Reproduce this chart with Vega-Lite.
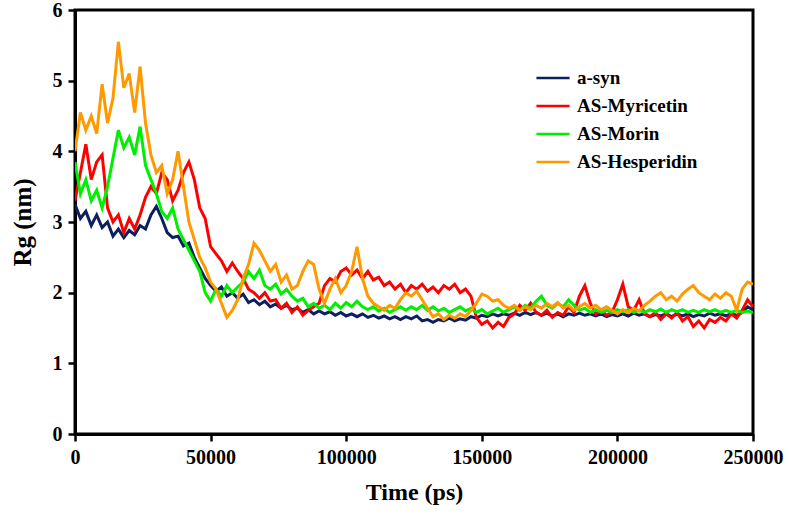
{
  "$schema": "https://vega.github.io/schema/vega-lite/v6.json",
  "width": 678,
  "height": 424,
  "autosize": {"type": "none"},
  "padding": {"left": 75, "top": 10, "right": 37, "bottom": 80},
  "background": "white",
  "config": {
    "font": "Liberation Serif",
    "view": {"stroke": "black", "strokeWidth": 3},
    "axis": {"grid": false, "domainColor": "black", "domainWidth": 3, "tickColor": "black", "tickWidth": 2.5, "tickSize": 7, "labelFont": "Liberation Serif", "labelFontWeight": "bold", "labelColor": "black", "labelFontSize": 20, "titleFont": "Liberation Serif", "titleFontWeight": "bold", "titleColor": "black"},
    "legend": {"labelFont": "Liberation Serif", "labelFontWeight": "bold", "labelColor": "black", "labelFontSize": 19}
  },
  "data": {"values": [
{"t":0,"a-syn":3.25,"AS-Myricetin":3.3,"AS-Morin":3.85,"AS-Hesperidin":4.0},
{"t":2000,"a-syn":3.05,"AS-Myricetin":3.7,"AS-Morin":3.4,"AS-Hesperidin":4.55},
{"t":4000,"a-syn":3.15,"AS-Myricetin":4.1,"AS-Morin":3.6,"AS-Hesperidin":4.3},
{"t":6000,"a-syn":2.95,"AS-Myricetin":3.6,"AS-Morin":3.3,"AS-Hesperidin":4.5},
{"t":8000,"a-syn":3.1,"AS-Myricetin":3.85,"AS-Morin":3.45,"AS-Hesperidin":4.25},
{"t":10000,"a-syn":2.92,"AS-Myricetin":3.95,"AS-Morin":3.2,"AS-Hesperidin":4.95},
{"t":12000,"a-syn":3.0,"AS-Myricetin":3.2,"AS-Morin":3.5,"AS-Hesperidin":4.4},
{"t":14000,"a-syn":2.8,"AS-Myricetin":3.0,"AS-Morin":3.9,"AS-Hesperidin":4.75},
{"t":16000,"a-syn":2.9,"AS-Myricetin":3.1,"AS-Morin":4.3,"AS-Hesperidin":5.55},
{"t":18000,"a-syn":2.78,"AS-Myricetin":2.85,"AS-Morin":4.05,"AS-Hesperidin":4.9},
{"t":20000,"a-syn":2.88,"AS-Myricetin":3.05,"AS-Morin":4.2,"AS-Hesperidin":5.1},
{"t":22000,"a-syn":2.82,"AS-Myricetin":2.9,"AS-Morin":3.95,"AS-Hesperidin":4.55},
{"t":24000,"a-syn":2.95,"AS-Myricetin":3.1,"AS-Morin":4.35,"AS-Hesperidin":5.2},
{"t":26000,"a-syn":2.9,"AS-Myricetin":3.35,"AS-Morin":3.8,"AS-Hesperidin":4.4},
{"t":28000,"a-syn":3.1,"AS-Myricetin":3.5,"AS-Morin":3.6,"AS-Hesperidin":3.95},
{"t":30000,"a-syn":3.22,"AS-Myricetin":3.4,"AS-Morin":3.4,"AS-Hesperidin":3.7},
{"t":32000,"a-syn":3.05,"AS-Myricetin":3.7,"AS-Morin":3.15,"AS-Hesperidin":3.8},
{"t":34000,"a-syn":2.85,"AS-Myricetin":3.6,"AS-Morin":3.05,"AS-Hesperidin":3.4},
{"t":36000,"a-syn":2.78,"AS-Myricetin":3.3,"AS-Morin":3.2,"AS-Hesperidin":3.6},
{"t":38000,"a-syn":2.8,"AS-Myricetin":3.45,"AS-Morin":2.9,"AS-Hesperidin":4.0},
{"t":40000,"a-syn":2.66,"AS-Myricetin":3.7,"AS-Morin":2.75,"AS-Hesperidin":3.5},
{"t":42000,"a-syn":2.7,"AS-Myricetin":3.85,"AS-Morin":2.6,"AS-Hesperidin":3.0},
{"t":44000,"a-syn":2.5,"AS-Myricetin":3.6,"AS-Morin":2.45,"AS-Hesperidin":2.75},
{"t":46000,"a-syn":2.35,"AS-Myricetin":3.2,"AS-Morin":2.3,"AS-Hesperidin":2.5},
{"t":48000,"a-syn":2.2,"AS-Myricetin":3.05,"AS-Morin":2.0,"AS-Hesperidin":2.35},
{"t":50000,"a-syn":2.1,"AS-Myricetin":2.65,"AS-Morin":1.88,"AS-Hesperidin":2.15},
{"t":52000,"a-syn":2.02,"AS-Myricetin":2.55,"AS-Morin":2.05,"AS-Hesperidin":2.05},
{"t":54000,"a-syn":2.08,"AS-Myricetin":2.45,"AS-Morin":1.95,"AS-Hesperidin":1.85},
{"t":56000,"a-syn":1.95,"AS-Myricetin":2.3,"AS-Morin":2.1,"AS-Hesperidin":1.65},
{"t":58000,"a-syn":2.0,"AS-Myricetin":2.42,"AS-Morin":2.0,"AS-Hesperidin":1.75},
{"t":60000,"a-syn":1.92,"AS-Myricetin":2.3,"AS-Morin":2.08,"AS-Hesperidin":1.9},
{"t":62000,"a-syn":1.98,"AS-Myricetin":2.2,"AS-Morin":2.15,"AS-Hesperidin":2.2},
{"t":64000,"a-syn":1.86,"AS-Myricetin":2.05,"AS-Morin":2.3,"AS-Hesperidin":2.4},
{"t":66000,"a-syn":1.9,"AS-Myricetin":2.0,"AS-Morin":2.2,"AS-Hesperidin":2.7},
{"t":68000,"a-syn":1.83,"AS-Myricetin":1.92,"AS-Morin":2.32,"AS-Hesperidin":2.6},
{"t":70000,"a-syn":1.88,"AS-Myricetin":2.0,"AS-Morin":2.1,"AS-Hesperidin":2.45},
{"t":72000,"a-syn":1.8,"AS-Myricetin":1.88,"AS-Morin":2.05,"AS-Hesperidin":2.3},
{"t":74000,"a-syn":1.84,"AS-Myricetin":1.9,"AS-Morin":2.12,"AS-Hesperidin":2.4},
{"t":76000,"a-syn":1.78,"AS-Myricetin":1.78,"AS-Morin":1.98,"AS-Hesperidin":2.15},
{"t":78000,"a-syn":1.82,"AS-Myricetin":1.85,"AS-Morin":2.05,"AS-Hesperidin":2.25},
{"t":80000,"a-syn":1.76,"AS-Myricetin":1.72,"AS-Morin":1.95,"AS-Hesperidin":2.05},
{"t":82000,"a-syn":1.78,"AS-Myricetin":1.8,"AS-Morin":1.88,"AS-Hesperidin":2.1},
{"t":84000,"a-syn":1.72,"AS-Myricetin":1.68,"AS-Morin":1.92,"AS-Hesperidin":2.3},
{"t":86000,"a-syn":1.76,"AS-Myricetin":1.75,"AS-Morin":1.8,"AS-Hesperidin":2.45},
{"t":88000,"a-syn":1.7,"AS-Myricetin":1.8,"AS-Morin":1.85,"AS-Hesperidin":2.4},
{"t":90000,"a-syn":1.74,"AS-Myricetin":1.85,"AS-Morin":1.78,"AS-Hesperidin":2.05},
{"t":92000,"a-syn":1.7,"AS-Myricetin":2.1,"AS-Morin":1.82,"AS-Hesperidin":1.85},
{"t":94000,"a-syn":1.73,"AS-Myricetin":2.2,"AS-Morin":1.76,"AS-Hesperidin":2.05},
{"t":96000,"a-syn":1.68,"AS-Myricetin":2.15,"AS-Morin":1.85,"AS-Hesperidin":2.2},
{"t":98000,"a-syn":1.72,"AS-Myricetin":2.3,"AS-Morin":1.78,"AS-Hesperidin":2.0},
{"t":100000,"a-syn":1.67,"AS-Myricetin":2.35,"AS-Morin":1.86,"AS-Hesperidin":2.1},
{"t":102000,"a-syn":1.7,"AS-Myricetin":2.25,"AS-Morin":1.8,"AS-Hesperidin":2.3},
{"t":104000,"a-syn":1.66,"AS-Myricetin":2.32,"AS-Morin":1.88,"AS-Hesperidin":2.65},
{"t":106000,"a-syn":1.7,"AS-Myricetin":2.2,"AS-Morin":1.8,"AS-Hesperidin":2.2},
{"t":108000,"a-syn":1.65,"AS-Myricetin":2.3,"AS-Morin":1.76,"AS-Hesperidin":1.95},
{"t":110000,"a-syn":1.68,"AS-Myricetin":2.18,"AS-Morin":1.8,"AS-Hesperidin":1.85},
{"t":112000,"a-syn":1.64,"AS-Myricetin":2.22,"AS-Morin":1.74,"AS-Hesperidin":1.8},
{"t":114000,"a-syn":1.67,"AS-Myricetin":2.1,"AS-Morin":1.78,"AS-Hesperidin":1.75},
{"t":116000,"a-syn":1.63,"AS-Myricetin":2.15,"AS-Morin":1.72,"AS-Hesperidin":1.82},
{"t":118000,"a-syn":1.66,"AS-Myricetin":2.05,"AS-Morin":1.76,"AS-Hesperidin":1.78},
{"t":120000,"a-syn":1.62,"AS-Myricetin":2.12,"AS-Morin":1.8,"AS-Hesperidin":1.9},
{"t":122000,"a-syn":1.66,"AS-Myricetin":2.0,"AS-Morin":1.75,"AS-Hesperidin":2.0},
{"t":124000,"a-syn":1.63,"AS-Myricetin":2.1,"AS-Morin":1.8,"AS-Hesperidin":1.95},
{"t":126000,"a-syn":1.67,"AS-Myricetin":2.05,"AS-Morin":1.76,"AS-Hesperidin":2.02},
{"t":128000,"a-syn":1.6,"AS-Myricetin":2.12,"AS-Morin":1.82,"AS-Hesperidin":1.9},
{"t":130000,"a-syn":1.62,"AS-Myricetin":2.02,"AS-Morin":1.75,"AS-Hesperidin":1.78},
{"t":132000,"a-syn":1.58,"AS-Myricetin":2.08,"AS-Morin":1.8,"AS-Hesperidin":1.66},
{"t":134000,"a-syn":1.62,"AS-Myricetin":2.0,"AS-Morin":1.74,"AS-Hesperidin":1.7},
{"t":136000,"a-syn":1.6,"AS-Myricetin":2.1,"AS-Morin":1.78,"AS-Hesperidin":1.62},
{"t":138000,"a-syn":1.64,"AS-Myricetin":2.05,"AS-Morin":1.72,"AS-Hesperidin":1.68},
{"t":140000,"a-syn":1.6,"AS-Myricetin":2.12,"AS-Morin":1.76,"AS-Hesperidin":1.64},
{"t":142000,"a-syn":1.63,"AS-Myricetin":2.0,"AS-Morin":1.8,"AS-Hesperidin":1.7},
{"t":144000,"a-syn":1.61,"AS-Myricetin":2.05,"AS-Morin":1.74,"AS-Hesperidin":1.66},
{"t":146000,"a-syn":1.66,"AS-Myricetin":1.95,"AS-Morin":1.78,"AS-Hesperidin":1.75},
{"t":148000,"a-syn":1.64,"AS-Myricetin":1.65,"AS-Morin":1.72,"AS-Hesperidin":1.85},
{"t":150000,"a-syn":1.68,"AS-Myricetin":1.55,"AS-Morin":1.76,"AS-Hesperidin":1.98},
{"t":152000,"a-syn":1.66,"AS-Myricetin":1.6,"AS-Morin":1.7,"AS-Hesperidin":1.95},
{"t":154000,"a-syn":1.7,"AS-Myricetin":1.5,"AS-Morin":1.74,"AS-Hesperidin":1.88},
{"t":156000,"a-syn":1.67,"AS-Myricetin":1.58,"AS-Morin":1.78,"AS-Hesperidin":1.9},
{"t":158000,"a-syn":1.7,"AS-Myricetin":1.52,"AS-Morin":1.72,"AS-Hesperidin":1.82},
{"t":160000,"a-syn":1.68,"AS-Myricetin":1.65,"AS-Morin":1.76,"AS-Hesperidin":1.78},
{"t":162000,"a-syn":1.71,"AS-Myricetin":1.7,"AS-Morin":1.8,"AS-Hesperidin":1.82},
{"t":164000,"a-syn":1.68,"AS-Myricetin":1.82,"AS-Morin":1.75,"AS-Hesperidin":1.75},
{"t":166000,"a-syn":1.72,"AS-Myricetin":1.75,"AS-Morin":1.82,"AS-Hesperidin":1.8},
{"t":168000,"a-syn":1.69,"AS-Myricetin":1.85,"AS-Morin":1.78,"AS-Hesperidin":1.76},
{"t":170000,"a-syn":1.72,"AS-Myricetin":1.72,"AS-Morin":1.88,"AS-Hesperidin":1.82},
{"t":172000,"a-syn":1.68,"AS-Myricetin":1.68,"AS-Morin":1.95,"AS-Hesperidin":1.78},
{"t":174000,"a-syn":1.71,"AS-Myricetin":1.75,"AS-Morin":1.82,"AS-Hesperidin":1.85},
{"t":176000,"a-syn":1.67,"AS-Myricetin":1.65,"AS-Morin":1.78,"AS-Hesperidin":1.8},
{"t":178000,"a-syn":1.7,"AS-Myricetin":1.72,"AS-Morin":1.85,"AS-Hesperidin":1.86},
{"t":180000,"a-syn":1.66,"AS-Myricetin":1.68,"AS-Morin":1.8,"AS-Hesperidin":1.78},
{"t":182000,"a-syn":1.7,"AS-Myricetin":1.8,"AS-Morin":1.9,"AS-Hesperidin":1.82},
{"t":184000,"a-syn":1.68,"AS-Myricetin":1.72,"AS-Morin":1.82,"AS-Hesperidin":1.75},
{"t":186000,"a-syn":1.71,"AS-Myricetin":1.95,"AS-Morin":1.75,"AS-Hesperidin":1.8},
{"t":188000,"a-syn":1.68,"AS-Myricetin":2.1,"AS-Morin":1.78,"AS-Hesperidin":1.85},
{"t":190000,"a-syn":1.7,"AS-Myricetin":1.85,"AS-Morin":1.72,"AS-Hesperidin":1.78},
{"t":192000,"a-syn":1.67,"AS-Myricetin":1.7,"AS-Morin":1.76,"AS-Hesperidin":1.82},
{"t":194000,"a-syn":1.7,"AS-Myricetin":1.75,"AS-Morin":1.72,"AS-Hesperidin":1.76},
{"t":196000,"a-syn":1.66,"AS-Myricetin":1.68,"AS-Morin":1.75,"AS-Hesperidin":1.8},
{"t":198000,"a-syn":1.69,"AS-Myricetin":1.72,"AS-Morin":1.72,"AS-Hesperidin":1.75},
{"t":200000,"a-syn":1.67,"AS-Myricetin":1.9,"AS-Morin":1.76,"AS-Hesperidin":1.7},
{"t":202000,"a-syn":1.7,"AS-Myricetin":2.12,"AS-Morin":1.73,"AS-Hesperidin":1.76},
{"t":204000,"a-syn":1.67,"AS-Myricetin":1.8,"AS-Morin":1.76,"AS-Hesperidin":1.72},
{"t":206000,"a-syn":1.71,"AS-Myricetin":1.75,"AS-Morin":1.72,"AS-Hesperidin":1.78},
{"t":208000,"a-syn":1.68,"AS-Myricetin":1.9,"AS-Morin":1.75,"AS-Hesperidin":1.74},
{"t":210000,"a-syn":1.7,"AS-Myricetin":1.7,"AS-Morin":1.72,"AS-Hesperidin":1.82},
{"t":212000,"a-syn":1.66,"AS-Myricetin":1.66,"AS-Morin":1.76,"AS-Hesperidin":1.88},
{"t":214000,"a-syn":1.69,"AS-Myricetin":1.72,"AS-Morin":1.73,"AS-Hesperidin":1.95},
{"t":216000,"a-syn":1.67,"AS-Myricetin":1.62,"AS-Morin":1.77,"AS-Hesperidin":2.0},
{"t":218000,"a-syn":1.7,"AS-Myricetin":1.7,"AS-Morin":1.72,"AS-Hesperidin":1.9},
{"t":220000,"a-syn":1.66,"AS-Myricetin":1.64,"AS-Morin":1.76,"AS-Hesperidin":1.95},
{"t":222000,"a-syn":1.7,"AS-Myricetin":1.72,"AS-Morin":1.73,"AS-Hesperidin":1.88},
{"t":224000,"a-syn":1.67,"AS-Myricetin":1.6,"AS-Morin":1.76,"AS-Hesperidin":1.98},
{"t":226000,"a-syn":1.7,"AS-Myricetin":1.66,"AS-Morin":1.72,"AS-Hesperidin":2.05},
{"t":228000,"a-syn":1.66,"AS-Myricetin":1.52,"AS-Morin":1.75,"AS-Hesperidin":2.1},
{"t":230000,"a-syn":1.69,"AS-Myricetin":1.6,"AS-Morin":1.72,"AS-Hesperidin":2.0},
{"t":232000,"a-syn":1.67,"AS-Myricetin":1.5,"AS-Morin":1.76,"AS-Hesperidin":1.95},
{"t":234000,"a-syn":1.71,"AS-Myricetin":1.62,"AS-Morin":1.73,"AS-Hesperidin":1.9},
{"t":236000,"a-syn":1.68,"AS-Myricetin":1.58,"AS-Morin":1.76,"AS-Hesperidin":1.98},
{"t":238000,"a-syn":1.7,"AS-Myricetin":1.65,"AS-Morin":1.72,"AS-Hesperidin":1.92},
{"t":240000,"a-syn":1.67,"AS-Myricetin":1.6,"AS-Morin":1.75,"AS-Hesperidin":2.0},
{"t":242000,"a-syn":1.7,"AS-Myricetin":1.7,"AS-Morin":1.72,"AS-Hesperidin":1.95},
{"t":244000,"a-syn":1.68,"AS-Myricetin":1.64,"AS-Morin":1.75,"AS-Hesperidin":1.75},
{"t":246000,"a-syn":1.72,"AS-Myricetin":1.75,"AS-Morin":1.72,"AS-Hesperidin":2.05},
{"t":248000,"a-syn":1.8,"AS-Myricetin":1.9,"AS-Morin":1.74,"AS-Hesperidin":2.15},
{"t":250000,"a-syn":1.76,"AS-Myricetin":1.8,"AS-Morin":1.72,"AS-Hesperidin":2.12}
  ]},
  "transform": [
    {"fold": ["a-syn", "AS-Myricetin", "AS-Morin", "AS-Hesperidin"], "as": ["series", "rg"]}
  ],
  "mark": {"type": "line", "strokeWidth": 3, "clip": true},
  "encoding": {
    "x": {"field": "t", "type": "quantitative", "scale": {"domain": [0, 250000], "nice": false},
      "axis": {"values": [0, 50000, 100000, 150000, 200000, 250000], "format": "d", "title": "Time (ps)", "titleFontSize": 24, "titlePadding": 13, "labelPadding": 6, "labelFlush": false}},
    "y": {"field": "rg", "type": "quantitative", "scale": {"domain": [0, 6], "nice": false},
      "axis": {"values": [0, 1, 2, 3, 4, 5, 6], "title": "Rg (nm)", "titleFontSize": 25, "titlePadding": 17, "labelPadding": 6}},
    "color": {"field": "series", "type": "nominal",
      "scale": {"domain": ["a-syn", "AS-Myricetin", "AS-Morin", "AS-Hesperidin"], "range": ["#0c1f5e", "#ff0000", "#00ee00", "#ff9900"]},
      "legend": {"title": null, "orient": "none", "legendX": 460, "legendY": 50, "symbolType": "stroke", "symbolSize": 1100, "symbolStrokeWidth": 2.5, "rowPadding": 0, "labelOffset": 6}}
  }
}
